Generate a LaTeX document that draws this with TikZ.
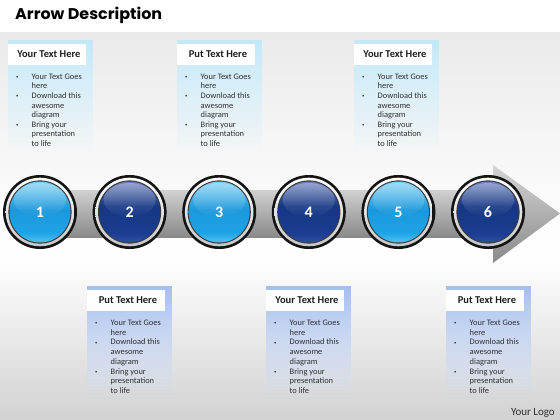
\documentclass[tikz,border=0pt]{standalone}
\usepackage{fontspec}
\setmainfont{Carlito}
\newfontfamily\titlefont{Poppins}
\usepackage{graphicx}
\usetikzlibrary{fadings}
\tikzfading[name=boxfade, top color=transparent!0, middle color=transparent!30, bottom color=transparent!100]
\definecolor{bgtop}{HTML}{EAEAEA}
\definecolor{bgbot}{HTML}{D2D2D2}
\definecolor{topbox}{HTML}{C2E8F8}
\definecolor{botbox}{HTML}{A6BFF0}
\definecolor{hdrcol}{HTML}{1E1E1E}
\definecolor{bodycol}{HTML}{303030}
\definecolor{lbA}{HTML}{4CC4F4}
\definecolor{lbB}{HTML}{1FA3E6}
\definecolor{lbC}{HTML}{1B98DC}
\definecolor{lbD}{HTML}{7CCEF4}
\definecolor{dbA}{HTML}{2E50A4}
\definecolor{dbB}{HTML}{1A3D91}
\definecolor{dbC}{HTML}{153683}
\definecolor{dbD}{HTML}{6C80BC}
\definecolor{barTop}{HTML}{D0D0D0}
\definecolor{barMid}{HTML}{ABABAB}
\definecolor{barBot}{HTML}{8A8A8A}
\definecolor{ringdark}{HTML}{3A3A3A}
\pgfdeclareverticalshading{bgshade}{100bp}{color(0bp)=(bgbot); color(25bp)=(bgbot); color(46bp)=(white); color(62bp)=(white!96!black); color(75bp)=(bgtop); color(100bp)=(bgtop)}
\pgfdeclareverticalshading{lightball}{100bp}{color(0bp)=(lbA); color(25bp)=(lbA); color(33bp)=(lbB); color(52bp)=(lbC); color(75bp)=(lbD); color(100bp)=(lbD)}
\pgfdeclareverticalshading{darkball}{100bp}{color(0bp)=(dbA); color(25bp)=(dbA); color(33bp)=(dbB); color(55bp)=(dbC); color(75bp)=(dbD); color(100bp)=(dbD)}
\newcommand\mybul{\raisebox{0.8pt}{\scalebox{0.55}{\textbullet}}}
\newcommand\bodylist{\begin{tabular}[t]{@{}p{15.5pt}@{}l@{}}
\mybul & Your Text Goes\\ & here\\ \mybul & Download this\\ & awesome\\ & diagram\\ \mybul & Bring your\\ & presentation\\ & to life\end{tabular}}
\newcommand\textpanel[6]{%
  % #1 x0, #2 top, #3 header, #4 colour, #5 name, #6 line skip
  \fill[white, path fading=boxfade] (#1,#2) rectangle ++(85,112);
  \fill[#4, path fading=boxfade] (#1,#2) rectangle ++(85,112);
  \fill[white] (#1,#2+4) rectangle ++(78,21);
  \node[hdr] (h#5) at (#1+41,#2+14) {#3};
  \node[bodytxt, font=\fontsize{8.4}{#6}\selectfont] (b#5) at (#1+8,#2+39.4) {\bodylist};
}
\begin{document}
\begin{tikzpicture}[x=1pt,y=-1pt,
  ballnum/.style={circle, minimum size=61pt, inner sep=0pt, text=white, font=\fontsize{16}{16}\selectfont\bfseries},
  hdr/.style={font=\fontsize{10.5}{12}\selectfont\bfseries, text=hdrcol, inner sep=0pt},
  bodytxt/.style={text=bodycol, inner sep=0pt, anchor=base west},
  ]
\useasboundingbox (0,0) rectangle (560,420);
\fill[white] (0,0) rectangle (560,420);
\shade[shading=bgshade] (0,33) rectangle (560,420);
\node[anchor=base west, inner sep=0pt, font=\titlefont\bfseries\fontsize{15.5}{16}\selectfont] (title) at (15,19.5) {\resizebox{147pt}{\height}{Arrow Description}};
% arrow body
\shade[top color=barTop, middle color=barMid, bottom color=barBot] (40,190) rectangle (494,237);
\shade[top color=barTop!90!white, middle color=barMid!90!white, bottom color=barBot] (493,165) -- (560,213.5) -- (493,263) -- cycle;
% balls
\foreach \i/\x/\sh in {1/40/lightball,2/129.6/darkball,3/219.2/lightball,4/308.8/darkball,5/398.4/lightball,6/488/darkball}{
  \fill[black!92] (\x,212) circle[radius=37pt];
  \shade[top color=white, middle color=gray!10, bottom color=gray!45] (\x,212) circle[radius=34.3pt];
  \fill[ringdark] (\x,212) circle[radius=31.6pt];
  \node[ballnum, shading=\sh] (c\i) at (\x,212) {\i};
  \fill[white, opacity=.3, path fading=south] (\x,200) ellipse [x radius=26pt, y radius=17pt];
}
% text panels
\textpanel{8}{40}{Your Text Here}{topbox}{1}{9.6}
\textpanel{177}{40}{Put Text Here}{topbox}{2}{9.6}
\textpanel{354}{40}{Your Text Here}{topbox}{3}{9.6}
\textpanel{87}{286}{Put Text Here}{botbox}{4}{9.75}
\textpanel{266}{286}{Your Text Here}{botbox}{5}{9.75}
\textpanel{446}{286}{Put Text Here}{botbox}{6}{9.75}
\node[anchor=base east, inner sep=0pt, font=\fontsize{11}{12}\selectfont, text=bodycol] (logo) at (555,415) {Your Logo};
\end{tikzpicture}
\end{document}
